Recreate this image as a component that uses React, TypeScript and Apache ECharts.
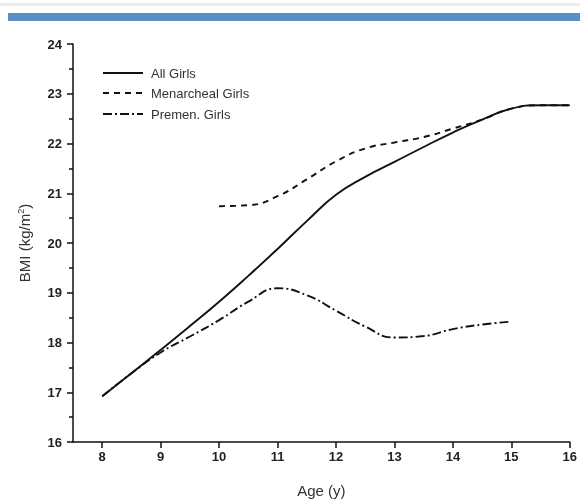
import React, { useEffect, useRef } from "react";
import * as echarts from "echarts";

const ages = [8, 8.5, 9, 9.5, 10, 10.5, 11, 11.5, 12, 12.5, 13, 13.5, 14, 14.5, 15, 15.5, 16];
const allGirls = [16.92, 17.38, 17.85, 18.33, 18.82, 19.34, 19.88, 20.44, 20.97, 21.33, 21.63, 21.93, 22.22, 22.48, 22.7, 22.77, 22.77];
const menAges = [10, 10.5, 11, 11.5, 12, 12.5, 13, 13.5, 14, 14.5, 15, 15.5, 16];
const menarcheal = [20.74, 20.76, 20.94, 21.28, 21.64, 21.9, 22.02, 22.13, 22.3, 22.48, 22.7, 22.77, 22.77];
const preAges = [8, 8.5, 9, 9.5, 10, 10.5, 11, 11.5, 12, 12.5, 13, 13.5, 14, 14.5, 15];
const premen = [16.92, 17.38, 17.8, 18.12, 18.45, 18.82, 19.09, 18.95, 18.64, 18.32, 18.1, 18.13, 18.27, 18.36, 18.42];
const seriesNames = ["All Girls", "Menarcheal Girls", "Premen. Girls"];
const xTickValues = [8, 9, 10, 11, 12, 13, 14, 15, 16];
const xRange = { min: 7.5, max: 16 };
const yTicks = { min: 16, max: 24, interval: 1 };

const zip = (xs: number[], ys: number[]) => xs.map((x, i) => [x, ys[i]]);

export default function App() {
  const ref = useRef<HTMLDivElement>(null);
  useEffect(() => {
    const chart = echarts.init(ref.current!, null, { renderer: "svg" });
    const font = "Liberation Sans, Arial, sans-serif";
    const lineBase = { color: "#111", width: 1.9 };
    const legendY = [73, 93, 114];
    const dashes: any[] = [null, [6, 5], [9, 3, 2, 3]];
    chart.setOption({
      animation: false,
      grid: { left: 73, right: 8, top: 44, bottom: 59 },
      xAxis: {
        type: "value",
        min: xRange.min,
        max: xRange.max,
        name: "Age (y)",
        nameLocation: "middle",
        nameGap: 41,
        nameTextStyle: { fontFamily: font, fontSize: 15, color: "#333" },
        axisLine: { lineStyle: { color: "#111", width: 1.5 } },
        axisTick: { show: true, length: 6, customValues: xTickValues, lineStyle: { color: "#111", width: 1.5 } },
        axisLabel: {
          fontFamily: font,
          fontSize: 13,
          fontWeight: "bold",
          color: "#222",
          margin: 8,
          customValues: xTickValues,
        },
        splitLine: { show: false },
      },
      yAxis: {
        type: "value",
        min: yTicks.min,
        max: yTicks.max,
        interval: yTicks.interval,
        name: "{a|BMI (kg/m}{s|2}{a|)}",
        nameLocation: "middle",
        nameRotate: 90,
        nameGap: 40,
        nameTextStyle: {
          rich: {
            a: { fontFamily: font, fontSize: 15, color: "#333" },
            s: { fontFamily: font, fontSize: 9, color: "#333", verticalAlign: "top", padding: [0, 0, 8, 0] },
          },
        },
        axisLine: { show: true, lineStyle: { color: "#111", width: 1.5 } },
        axisTick: { show: true, length: 6, lineStyle: { color: "#111", width: 1.5 } },
        minorTick: { show: true, splitNumber: 2, length: 4, lineStyle: { color: "#111", width: 1.5 } },
        axisLabel: { fontFamily: font, fontSize: 13, fontWeight: "bold", color: "#222", margin: 11 },
        splitLine: { show: false },
      },
      series: [
        {
          name: seriesNames[0],
          type: "line",
          data: zip(ages, allGirls),
          smooth: 0.5,
          showSymbol: false,
          lineStyle: { ...lineBase, type: "solid" },
        },
        {
          name: seriesNames[1],
          type: "line",
          data: zip(menAges, menarcheal),
          smooth: 0.5,
          showSymbol: false,
          lineStyle: { ...lineBase, type: [6, 5] },
        },
        {
          name: seriesNames[2],
          type: "line",
          data: zip(preAges, premen),
          smooth: 0.5,
          showSymbol: false,
          lineStyle: { ...lineBase, type: [9, 3, 2, 3] },
        },
      ],
      graphic: [
        { type: "rect", shape: { x: 0, y: 3, width: 580, height: 3 }, style: { fill: "#ececec" } },
        { type: "rect", shape: { x: 8, y: 13, width: 572, height: 8 }, style: { fill: "#5a8fc5" } },
        ...seriesNames.flatMap((n, i) => [
          {
            type: "line",
            shape: { x1: 103, y1: legendY[i], x2: 143, y2: legendY[i] },
            style: { stroke: "#111", lineWidth: 1.8, lineDash: dashes[i] },
          },
          {
            type: "text",
            x: 151,
            y: legendY[i],
            style: { text: n, fontFamily: font, fontSize: 13, fill: "#333", verticalAlign: "middle" },
          },
        ]),
      ],
    });
    return () => chart.dispose();
  }, []);
  return <div ref={ref} style={{ position: "fixed", left: 0, top: 0, width: 580, height: 503 }} />;
}
